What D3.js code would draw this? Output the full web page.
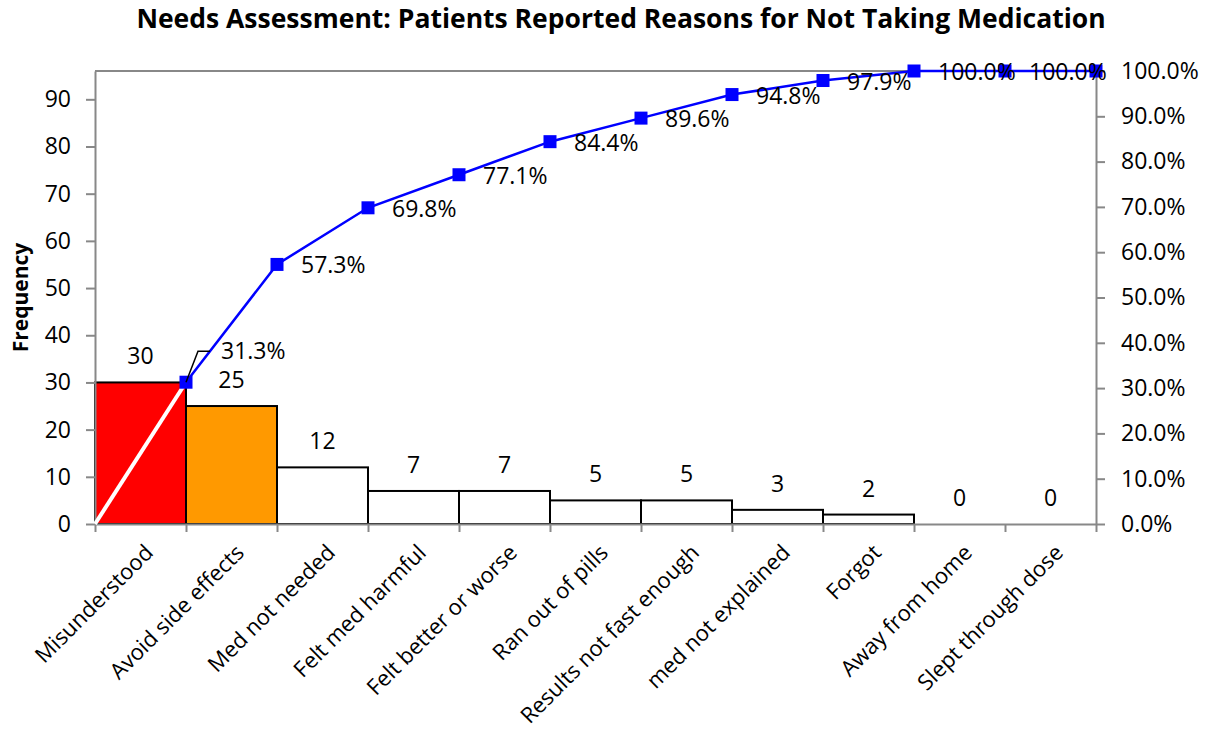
<!DOCTYPE html>
<meta charset="utf-8">
<script src="https://d3js.org/d3.v7.min.js"></script>
<style>
  body { margin: 0; background: #fff; }
  text { font-family: "Open Sans", sans-serif; fill: #000; }
</style>
<div id="pareto"></div>
<script>
// chart values
var categories = ["Misunderstood", "Avoid side effects", "Med not needed", "Felt med harmful",
  "Felt better or worse", "Ran out of pills", "Results not fast enough", "med not explained",
  "Forgot", "Away from home", "Slept through dose"];
var counts = [30, 25, 12, 7, 7, 5, 5, 3, 2, 0, 0];
var cumPct = [31.3, 57.3, 69.8, 77.1, 84.4, 89.6, 94.8, 97.9, 100.0, 100.0, 100.0];
var freqTicks = [0, 10, 20, 30, 40, 50, 60, 70, 80, 90];
var pctTicks = [0, 10, 20, 30, 40, 50, 60, 70, 80, 90, 100];
var freqMax = 96;

var W = 1210, H = 742;
var plotLeft = 95, plotRight = 1096, plotTop = 71, plotBottom = 524;
var axisGrey = "#888888";
var fs = "23px";

var svg = d3.select("#pareto").append("svg")
    .attr("width", W)
    .attr("height", H);

// scales
var x = d3.scaleBand().domain(categories).range([plotLeft, plotRight]).padding(0);
var xEdge = d3.scaleLinear().domain([0, categories.length]).range([plotLeft, plotRight]);
var y = d3.scaleLinear().domain([0, freqMax]).range([plotBottom, plotTop]);
var yR = d3.scaleLinear().domain([0, 100]).range([plotBottom, plotTop]);

// title
svg.append("text")
    .attr("x", 621)
    .attr("y", 28)
    .attr("text-anchor", "middle")
    .style("font-size", "26.5px")
    .style("font-weight", "bold")
    .text("Needs Assessment: Patients Reported Reasons for Not Taking Medication");

// y axis title
svg.append("text")
    .attr("transform", "translate(28," + ((plotTop + plotBottom) / 2) + ") rotate(-90)")
    .attr("text-anchor", "middle")
    .style("font-size", "21px")
    .style("font-weight", "bold")
    .text("Frequency");

// top border of plot
svg.append("line")
    .attr("x1", plotLeft).attr("x2", plotRight)
    .attr("y1", plotTop).attr("y2", plotTop)
    .attr("stroke", axisGrey)
    .attr("stroke-width", 2);

// bars
svg.append("g").selectAll("rect")
    .data(categories.filter(function(c, i) { return counts[i] > 0; }))
    .enter().append("rect")
      .attr("x", function(d) { return x(d); })
      .attr("y", function(d) { return y(counts[categories.indexOf(d)]); })
      .attr("width", x.bandwidth())
      .attr("height", function(d) { return plotBottom - y(counts[categories.indexOf(d)]); })
      .attr("fill", function(d) {
        var i = categories.indexOf(d);
        return i === 0 ? "#ff0000" : (i === 1 ? "#ff9900" : "#ffffff");
      })
      .attr("stroke", "#000")
      .attr("stroke-width", 2);

// axes
function styleAxis(g) {
  g.select(".domain").attr("stroke", axisGrey).attr("stroke-width", 2);
  g.selectAll(".tick line").attr("stroke", axisGrey).attr("stroke-width", 2);
  g.selectAll(".tick text").style("font-family", "Open Sans").style("font-size", fs).attr("fill", "#000");
}

svg.append("g")
    .attr("transform", "translate(" + plotLeft + ",0)")
    .call(d3.axisLeft(y).tickValues(freqTicks).tickSize(9).tickPadding(15).tickSizeOuter(0))
    .call(styleAxis);

svg.append("g")
    .attr("transform", "translate(" + plotRight + ",0)")
    .call(d3.axisRight(yR).tickValues(pctTicks).tickSize(9).tickPadding(16).tickSizeOuter(0)
      .tickFormat(function(d) { return d3.format(".1f")(d) + "%"; }))
    .call(styleAxis);

svg.append("g")
    .attr("transform", "translate(0," + plotBottom + ")")
    .call(d3.axisBottom(xEdge).tickValues(d3.range(categories.length + 1)).tickSize(8).tickSizeOuter(0).tickFormat(""))
    .call(styleAxis);

// category labels
svg.append("g").selectAll("text")
    .data(categories)
    .enter().append("text")
      .attr("transform", function(d) {
        return "translate(" + (x(d) + x.bandwidth() / 2 + 14) + ",554) rotate(-45)";
      })
      .attr("text-anchor", "end")
      .style("font-size", "22px")
      .text(function(d) { return d; });

// bar value labels
svg.append("g").selectAll("text")
    .data(categories)
    .enter().append("text")
      .attr("x", function(d) { return x(d) + x.bandwidth() / 2; })
      .attr("y", function(d) { return y(counts[categories.indexOf(d)]) - 18; })
      .attr("text-anchor", "middle")
      .style("font-size", fs)
      .text(function(d) { return counts[categories.indexOf(d)]; });

// cumulative line
var pts = categories.map(function(c, i) {
  return [x(c) + x.bandwidth(), yR(cumPct[i])];
});

svg.append("line")
    .attr("x1", xEdge(0)).attr("y1", yR(0))
    .attr("x2", pts[0][0]).attr("y2", pts[0][1])
    .attr("stroke", "#ffffff")
    .attr("stroke-width", 4);

svg.append("path")
    .datum(pts)
    .attr("d", d3.line())
    .attr("fill", "none")
    .attr("stroke", "#0000ff")
    .attr("stroke-width", 2.5);

svg.append("g").selectAll("rect")
    .data(pts)
    .enter().append("rect")
      .attr("x", function(d) { return d[0] - 6.5; })
      .attr("y", function(d) { return d[1] - 6.5; })
      .attr("width", 13)
      .attr("height", 13)
      .attr("fill", "#0000ff");

// leader for the first label, which sits up and to the right
svg.append("polyline")
    .attr("points", [pts[0], [pts[0][0] + 12, pts[0][1] - 31], [pts[0][0] + 24, pts[0][1] - 31]].join(" "))
    .attr("fill", "none")
    .attr("stroke", "#000")
    .attr("stroke-width", 1.5);

// the label of the last point sits under the right axis' 100.0% tick label
svg.append("g").selectAll("text")
    .data(pts.slice(0, pts.length - 1))
    .enter().append("text")
      .attr("x", function(d, i) { return d[0] + (i === 0 ? 35 : 24); })
      .attr("y", function(d, i) { return d[1] + (i === 0 ? -31 : 1); })
      .attr("dy", "0.35em")
      .style("font-size", fs)
      .text(function(d, i) { return d3.format(".1f")(cumPct[i]) + "%"; });
</script>
